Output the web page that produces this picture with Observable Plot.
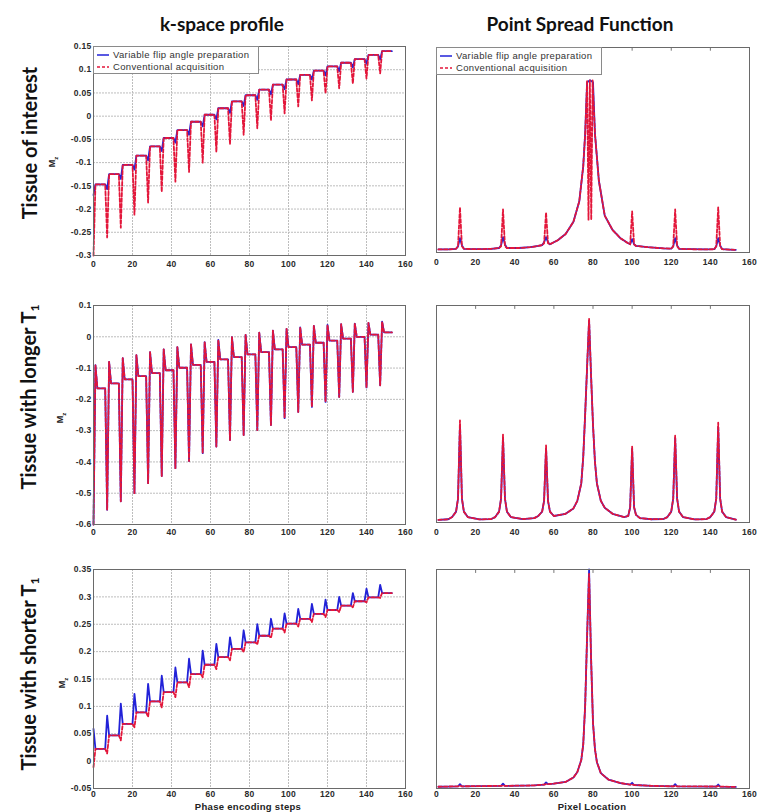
<!DOCTYPE html>
<html><head><meta charset="utf-8">
<script src="https://cdn.jsdelivr.net/npm/d3@7"></script>
<script src="https://cdn.jsdelivr.net/npm/@observablehq/plot@0.6"></script>
<style>
body{margin:0;background:#fff;}
#wrap{position:relative;width:758px;height:812px;overflow:hidden;background:#fff;font-family:"Liberation Sans",Arial,sans-serif;}
.title{position:absolute;font-family:Lato,"Open Sans",sans-serif;font-weight:bold;font-size:19px;color:#111;transform:translate(-50%,-50%);white-space:nowrap;}
.rowlab{position:absolute;font-family:Lato,"Open Sans",sans-serif;font-weight:bold;font-size:20px;color:#111;transform:translate(-50%,-50%) rotate(-90deg);white-space:nowrap;}
.rowlab sub{font-size:12px;vertical-align:-3px;}
.ylab{position:absolute;font-weight:bold;font-size:9px;color:#222;transform:translate(-50%,-50%) rotate(-90deg);white-space:nowrap;}
.ylab sub{font-size:6px;}
.xlab{position:absolute;font-weight:bold;font-size:9.5px;letter-spacing:0.3px;color:#222;transform:translate(-50%,-50%);white-space:nowrap;}
.legend{position:absolute;border:1px solid #8a8a8a;background:#fff;box-sizing:border-box;}
.legend .it{position:absolute;left:2px;height:12px;font-size:9.5px;letter-spacing:0.35px;color:#333;white-space:nowrap;line-height:12px;}
.legend svg{vertical-align:middle;margin-right:3px;}
</style></head>
<body><div id="wrap"></div>
<script>
// ---------- data ----------
const xTicks = [0, 20, 40, 60, 80, 100, 120, 140, 160];
const k1YTicks = [-0.3, -0.25, -0.2, -0.15, -0.1, -0.05, 0, 0.05, 0.1, 0.15];
const k2YTicks = [-0.6, -0.5, -0.4, -0.3, -0.2, -0.1, 0, 0.1];
const k3YTicks = [-0.05, 0, 0.05, 0.1, 0.15, 0.2, 0.25, 0.3, 0.35];
const segLen = 7; // phase encoding lines per segment (22 segments, steps 0..153)

// Tissue of interest: k-space per segment
const k1Level   = [-0.147,-0.125,-0.105,-0.085,-0.065,-0.047,-0.030,-0.012,0.003,0.017,0.032,0.045,0.057,0.068,0.079,0.089,0.098,0.107,0.115,0.123,0.132,0.140];
const k1RedMin  = [-0.300,-0.261,-0.240,-0.212,-0.186,-0.163,-0.141,-0.120,-0.100,-0.077,-0.060,-0.040,-0.026,-0.009,0.006,0.021,0.034,0.049,0.060,0.070,0.081,0.092];
const k1BlueMin = [-0.170,-0.157,-0.135,-0.115,-0.095,-0.075,-0.057,-0.040,-0.022,-0.007,0.007,0.022,0.035,0.047,0.058,0.069,0.079,0.088,0.097,0.105,0.113,0.122];

// Tissue with longer T1
const k2Level = [-0.165,-0.149,-0.136,-0.126,-0.116,-0.107,-0.099,-0.090,-0.080,-0.072,-0.065,-0.056,-0.049,-0.040,-0.033,-0.025,-0.019,-0.012,-0.006,0.000,0.007,0.014];
const k2Spike = [-0.091,-0.080,-0.068,-0.059,-0.049,-0.040,-0.033,-0.024,-0.017,-0.010,-0.001,0.006,0.013,0.020,0.025,0.030,0.035,0.038,0.040,0.042,0.044,0.048];
const k2Min   = [-0.600,-0.553,-0.526,-0.500,-0.468,-0.445,-0.420,-0.397,-0.372,-0.351,-0.330,-0.314,-0.298,-0.282,-0.260,-0.240,-0.224,-0.208,-0.192,-0.176,-0.162,-0.155];

// Tissue with shorter T1
const k3Level     = [0.0225,0.047,0.068,0.089,0.109,0.126,0.144,0.159,0.176,0.190,0.205,0.217,0.229,0.242,0.251,0.260,0.269,0.276,0.284,0.292,0.299,0.307];
const k3BlueSpike = [0.059,0.083,0.105,0.123,0.141,0.156,0.171,0.187,0.202,0.214,0.226,0.239,0.250,0.260,0.270,0.278,0.287,0.295,0.300,0.307,0.315,0.322];
const k3RedDip    = [-0.011,0.014,0.038,0.062,0.081,0.098,0.117,0.135,0.153,0.168,0.184,0.199,0.213,0.225,0.235,0.246,0.254,0.263,0.272,0.281,0.290,0.298];

// Point spread functions (relative amplitude)
const psf1BlueX = [1,6,10,11,12,13,14,20,28,32,33,34,35,36,42,48,52,54,55,56,57,58,62,66,70,73,75,76,77,78.5,80,81,83,86,90,94,98,99,100,101,102,108,116,120,121,122,123,124,130,138,142,143,144,145,146,150,153];
const psf1Blue  = [0.015,0.015,0.018,0.03,0.07,0.035,0.018,0.016,0.018,0.022,0.035,0.075,0.04,0.022,0.022,0.026,0.032,0.036,0.05,0.075,0.05,0.04,0.06,0.09,0.15,0.25,0.42,0.58,0.83,0.84,0.83,0.58,0.35,0.18,0.11,0.07,0.045,0.04,0.065,0.04,0.032,0.026,0.02,0.019,0.03,0.07,0.035,0.018,0.016,0.015,0.016,0.03,0.07,0.035,0.016,0.014,0.013];
const psf1RedX  = [1,6,10,11,12,13,14,20,28,32,33,34,35,36,42,48,52,54,55,56,57,58,62,66,70,73,75,76,77,77.7,78.4,79.1,79.8,81,83,86,90,94,98,99,100,101,102,108,116,120,121,122,123,124,130,138,142,143,144,145,146,150,153];
const psf1Red   = [0.015,0.015,0.018,0.03,0.22,0.03,0.018,0.016,0.018,0.022,0.03,0.21,0.03,0.022,0.022,0.026,0.032,0.036,0.045,0.195,0.045,0.04,0.06,0.09,0.15,0.25,0.42,0.58,0.84,0.16,0.84,0.16,0.84,0.58,0.35,0.18,0.11,0.07,0.045,0.04,0.2,0.04,0.032,0.026,0.02,0.019,0.03,0.21,0.03,0.018,0.016,0.015,0.016,0.03,0.22,0.03,0.016,0.014,0.013];

const psf2X    = [1,6,8,10,11,12,13,14,16,22,28,30,32,33,34,35,36,38,44,50,52,54,55,56,57,58,60,66,70,72,74,75,76,77,78,79,80,81,82,84,86,90,96,98,99,100,101,102,104,110,116,118,120,121,122,123,124,126,132,138,140,142,143,144,145,146,148,153];
const psf2Red  = [0.012,0.015,0.025,0.05,0.11,0.47,0.11,0.05,0.025,0.014,0.016,0.025,0.05,0.11,0.405,0.11,0.05,0.025,0.016,0.02,0.03,0.05,0.1,0.355,0.1,0.05,0.03,0.04,0.065,0.1,0.18,0.3,0.5,0.72,0.94,0.68,0.45,0.28,0.18,0.1,0.068,0.04,0.025,0.03,0.07,0.35,0.07,0.035,0.02,0.015,0.016,0.025,0.05,0.11,0.40,0.11,0.05,0.025,0.014,0.016,0.025,0.05,0.11,0.46,0.11,0.05,0.025,0.013];
const psf2Blue = [0.012,0.015,0.025,0.05,0.11,0.45,0.11,0.05,0.025,0.014,0.016,0.025,0.05,0.11,0.39,0.11,0.05,0.025,0.016,0.02,0.03,0.05,0.1,0.34,0.1,0.05,0.03,0.04,0.065,0.1,0.18,0.3,0.5,0.72,0.93,0.68,0.45,0.28,0.18,0.1,0.068,0.04,0.025,0.03,0.07,0.34,0.07,0.035,0.02,0.015,0.016,0.025,0.05,0.11,0.39,0.11,0.05,0.025,0.014,0.016,0.025,0.05,0.11,0.44,0.11,0.05,0.025,0.013];

const psf3X    = [1,11,12,13,33,34,35,50,55,56,57,60,66,70,72,74,75,76,77,78,79,80,81,82,84,88,94,99,100,101,110,121,122,123,143,144,145,153];
const psf3Blue = [0.008,0.01,0.02,0.01,0.012,0.022,0.012,0.014,0.018,0.028,0.02,0.022,0.03,0.05,0.075,0.13,0.2,0.38,0.7,1.0,0.6,0.3,0.18,0.12,0.07,0.04,0.025,0.018,0.026,0.016,0.012,0.01,0.02,0.01,0.009,0.018,0.009,0.007];
const psf3Red  = [0.008,0.01,0.013,0.01,0.012,0.014,0.012,0.014,0.018,0.02,0.02,0.022,0.03,0.05,0.075,0.13,0.2,0.38,0.7,0.98,0.6,0.3,0.18,0.12,0.07,0.04,0.025,0.018,0.018,0.016,0.012,0.01,0.012,0.01,0.009,0.011,0.009,0.007];

// ---------- helpers ----------
const BLUE = "#2222d8", RED = "#e3163a";
function steps(level, p0, p1) {
  const out = [];
  level.forEach((lv, k) => {
    for (let j = 0; j < segLen; j++) {
      const y = j === 0 ? p0[k] : (j === 1 && p1 ? p1[k] : lv);
      out.push({x: k * segLen + j, y});
    }
  });
  return out;
}
const pairs = (xs, ys) => xs.map((x, i) => ({x, y: ys[i]}));
const fmt = d => String(Math.round(d * 100) / 100);
const wrap = document.getElementById("wrap");

function panel(o) {
  const ml = 45, mr = 12, mt = 8, mb = 26;
  const marks = [];
  if (o.grid) {
    marks.push(Plot.gridX(xTicks, {stroke: "#bdbdbd", strokeOpacity: 1, strokeDasharray: "2,1"}));
    marks.push(Plot.gridY(o.yTicks, {stroke: "#bdbdbd", strokeOpacity: 1, strokeDasharray: "2,1"}));
  }
  if (o.topTicks) {
    const [a, b] = o.yDomain;
    marks.push(Plot.ruleX(xTicks, {x: d => d, y1: b, y2: b - (b - a) * 0.018, stroke: "#777"}));
  }
  for (const s of o.series) {
    marks.push(Plot.line(s.data, {x: "x", y: "y", stroke: s.color, strokeWidth: 1.8, strokeDasharray: s.dash}));
  }
  marks.push(Plot.frame({stroke: "#6a6a6a"}));
  marks.push(Plot.axisX(xTicks, {tickSize: 0, tickPadding: o.xPad, tickFormat: d => String(d), label: null}));
  if (o.yAxis) marks.push(Plot.axisY(o.yTicks, {tickSize: 0, tickPadding: 2, tickFormat: fmt, label: null}));
  const svg = Plot.plot({
    width: o.w + ml + mr, height: o.h + mt + mb,
    marginLeft: ml, marginRight: mr, marginTop: mt, marginBottom: mb,
    x: {domain: [0, 160], label: null},
    y: {domain: o.yDomain, label: null, axis: o.yAxis ? undefined : null},
    style: {fontFamily: "'Liberation Sans', Arial, sans-serif", fontSize: "8.5px", fontWeight: "bold", color: "#2a2a2a", background: "transparent", overflow: "visible", letterSpacing: "0.3px"},
    marks
  });
  svg.style.position = "absolute";
  svg.style.left = (o.x - ml) + "px";
  svg.style.top = (o.y - mt) + "px";
  wrap.appendChild(svg);
}

function dashSeries(blue, red) {
  return [{data: blue, color: BLUE}, {data: red, color: RED, dash: "3.5,2"}];
}

// ---------- panels ----------
const LX = 93, LW = 312, RX = 436, RW = 313;
panel({x: LX, y: 46, w: LW, h: 209, yDomain: [-0.3, 0.15], yTicks: k1YTicks, grid: true, yAxis: true, xPad: 5,
  series: dashSeries(steps(k1Level, k1BlueMin), steps(k1Level, k1RedMin))});
panel({x: LX, y: 305, w: LW, h: 219, yDomain: [-0.6, 0.1], yTicks: k2YTicks, grid: true, yAxis: true, xPad: 4,
  series: dashSeries(steps(k2Level, k2Min, k2Spike), steps(k2Level, k2Min, k2Spike))});
panel({x: LX, y: 569, w: LW, h: 219, yDomain: [-0.05, 0.35], yTicks: k3YTicks, grid: true, yAxis: true, xPad: 2,
  series: dashSeries(steps(k3Level, k3BlueSpike), steps(k3Level, k3RedDip))});

panel({x: RX, y: 47, w: RW, h: 205, yDomain: [0, 1], topTicks: true, xPad: 6,
  series: dashSeries(pairs(psf1BlueX, psf1Blue), pairs(psf1RedX, psf1Red))});
panel({x: RX, y: 305, w: RW, h: 217, yDomain: [0, 1], topTicks: true, xPad: 6,
  series: dashSeries(pairs(psf2X, psf2Blue), pairs(psf2X, psf2Red))});
panel({x: RX, y: 569, w: RW, h: 219, yDomain: [0, 1], topTicks: true, xPad: 2,
  series: dashSeries(pairs(psf3X, psf3Blue), pairs(psf3X, psf3Red))});

// ---------- text ----------
function add(cls, html, x, y) {
  const d = document.createElement("div");
  d.className = cls; d.innerHTML = html;
  d.style.left = x + "px"; d.style.top = y + "px";
  wrap.appendChild(d);
  return d;
}
add("title", "k-space profile", 222, 23);
add("title", "Point Spread Function", 580, 23);
add("rowlab", "Tissue of interest", 29, 143);
add("rowlab", "Tissue with longer T<sub>1</sub>", 29, 397);
add("rowlab", "Tissue with shorter T<sub>1</sub>", 29, 674);
add("ylab", "M<sub>z</sub>", 53, 162);
add("ylab", "M<sub>z</sub>", 61, 418);
add("ylab", "M<sub>z</sub>", 63, 683);
add("xlab", "Phase encoding steps", 248, 806);
add("xlab", "Pixel Location", 592, 806);

function legend(x, y) {
  const d = document.createElement("div");
  d.className = "legend";
  d.style.left = x + "px"; d.style.top = y + "px";
  d.style.width = "166px"; d.style.height = "28px";
  d.innerHTML =
    `<div class="it" style="top:2px"><svg width="14" height="8"><line x1="1" y1="4" x2="13" y2="4" stroke="${BLUE}" stroke-width="1.5"/></svg>Variable flip angle preparation</div>` +
    `<div class="it" style="top:14px"><svg width="14" height="8"><line x1="1" y1="4" x2="13" y2="4" stroke="${RED}" stroke-width="1.5" stroke-dasharray="3,2"/></svg>Conventional acquisition</div>`;
  wrap.appendChild(d);
}
legend(LX, 46);
legend(RX, 47);
</script>
</body></html>
